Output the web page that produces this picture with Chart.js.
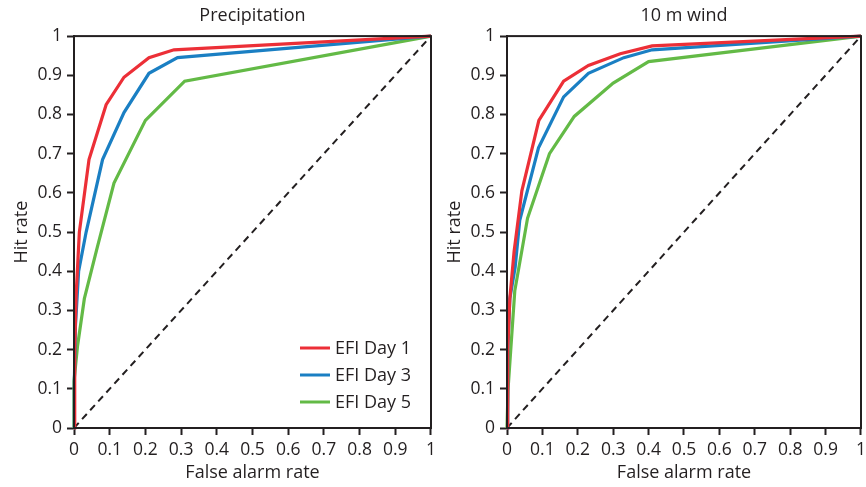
<!DOCTYPE html>
<html>
<head>
<meta charset="utf-8">
<script src="https://cdn.jsdelivr.net/npm/chart.js@4/dist/chart.umd.min.js"></script>
<style>
  html, body { margin: 0; background: #fff; overflow: hidden; }
  .panel { position: absolute; top: 0; }
</style>
</head>
<body>
<canvas id="precipChart" class="panel" width="441" height="487" style="left:0"></canvas>
<canvas id="windChart" class="panel" width="438" height="487" style="left:433px"></canvas>
<script>
// ROC curves, [false alarm rate, hit rate]
const precipDay1 = [[0, 0], [0.002, 0.2], [0.006, 0.34], [0.015, 0.5], [0.042, 0.685], [0.09, 0.825], [0.14, 0.895], [0.21, 0.945], [0.28, 0.965], [1, 1]];
const precipDay3 = [[0, 0], [0.001, 0.12], [0.004, 0.26], [0.013, 0.4], [0.034, 0.5], [0.08, 0.685], [0.14, 0.805], [0.21, 0.905], [0.29, 0.945], [1, 1]];
const precipDay5 = [[0, 0], [0, 0.12], [0.01, 0.21], [0.029, 0.33], [0.065, 0.46], [0.112, 0.625], [0.2, 0.785], [0.31, 0.885], [1, 1]];

const windDay1 = [[0, 0], [0.002, 0.2], [0.008, 0.33], [0.02, 0.45], [0.042, 0.605], [0.09, 0.785], [0.16, 0.885], [0.23, 0.925], [0.32, 0.955], [0.41, 0.975], [1, 1]];
const windDay3 = [[0, 0], [0.002, 0.2], [0.008, 0.33], [0.023, 0.41], [0.036, 0.53], [0.089, 0.715], [0.16, 0.845], [0.23, 0.905], [0.33, 0.945], [0.41, 0.965], [1, 1]];
const windDay5 = [[0, 0], [0.003, 0.1], [0.022, 0.35], [0.058, 0.535], [0.12, 0.7], [0.19, 0.795], [0.3, 0.88], [0.4, 0.935], [1, 1]];

const noSkill = [[0, 0], [1, 1]];
const seriesLabels = ['EFI Day 1', 'EFI Day 3', 'EFI Day 5'];
const tickLabels = ['0', '0.1', '0.2', '0.3', '0.4', '0.5', '0.6', '0.7', '0.8', '0.9', '1'];

const ink = '#231f20';
const lineColors = ['#ec2f37', '#1a7fc3', '#63ba46'];
const fontFamily = "'Open Sans', 'Liberation Sans', sans-serif";

// box round the plot area
const framePlugin = {
    id: 'frame',
    afterDraw(chart) {
        const a = chart.chartArea;
        const ctx = chart.ctx;
        ctx.save();
        ctx.strokeStyle = ink;
        ctx.lineWidth = 2;
        ctx.strokeRect(a.left, a.top, a.right - a.left, a.bottom - a.top);
        ctx.restore();
    }
};

// legend sitting inside the lower right corner
const insideLegend = {
    id: 'insideLegend',
    afterDraw(chart, args, opts) {
        if (!opts.show) return;
        const a = chart.chartArea;
        const ctx = chart.ctx;
        const x0 = a.left + (a.right - a.left) * 0.633;
        ctx.save();
        ctx.font = '18px ' + fontFamily;
        ctx.textBaseline = 'middle';
        chart.data.datasets.forEach((ds, i) => {
            if (!ds.inLegend) return;
            const y = a.bottom - 80 + i * 27;
            ctx.strokeStyle = ds.borderColor;
            ctx.lineWidth = 3;
            ctx.beginPath();
            ctx.moveTo(x0, y);
            ctx.lineTo(x0 + 30, y);
            ctx.stroke();
            ctx.fillStyle = ink;
            ctx.fillText(ds.label, x0 + 35, y + 1);
        });
        ctx.restore();
    }
};

function makeDatasets(curves) {
    const sets = curves.map((pts, i) => ({
        label: seriesLabels[i],
        inLegend: true,
        data: pts.map(p => ({ x: p[0], y: p[1] })),
        borderColor: lineColors[i],
        borderWidth: 3.2,
        showLine: true,
        pointRadius: 0,
        tension: 0,
        clip: 3
    }));
    sets.push({
        label: 'no skill',
        inLegend: false,
        data: noSkill.map(p => ({ x: p[0], y: p[1] })),
        borderColor: ink,
        borderWidth: 2,
        borderDash: [7, 5],
        showLine: true,
        pointRadius: 0
    });
    return sets;
}

function axisOptions(titleText, isY) {
    return {
        type: 'linear',
        min: 0,
        max: 1,
        border: { display: true, color: ink, width: 2 },
        grid: {
            drawOnChartArea: false,
            drawTicks: true,
            tickLength: 7,
            tickWidth: 2,
            tickColor: ink
        },
        ticks: {
            stepSize: 0.1,
            color: ink,
            padding: 5,
            font: { family: fontFamily, size: 17.5 },
            callback: (v, i) => tickLabels[i]
        },
        title: {
            display: true,
            text: titleText,
            color: ink,
            font: { family: fontFamily, size: 18 },
            padding: isY ? { top: 11, bottom: 0 } : { top: 0, bottom: 3 }
        },
        afterFit(scale) {
            if (isY) scale.width = 74;
            else scale.height = 59;
        }
    };
}

function makeChart(id, title, curves, showLegend, padRight) {
    return new Chart(document.getElementById(id), {
        type: 'scatter',
        data: { datasets: makeDatasets(curves) },
        options: {
            responsive: false,
            animation: false,
            layout: { padding: { left: 0, right: padRight, top: 0, bottom: 0 } },
            scales: {
                x: axisOptions('False alarm rate', false),
                y: axisOptions('Hit rate', true)
            },
            plugins: {
                legend: { display: false },
                tooltip: { enabled: false },
                title: {
                    display: true,
                    fullSize: false,
                    text: title,
                    color: ink,
                    font: { family: fontFamily, size: 18, weight: 'normal' },
                    padding: { top: 5, bottom: 9.5 }
                },
                insideLegend: { show: showLegend }
            }
        },
        plugins: [framePlugin, insideLegend]
    });
}

makeChart('precipChart', 'Precipitation', [precipDay1, precipDay3, precipDay5], true, 6);
makeChart('windChart', '10 m wind', [windDay1, windDay3, windDay5], false, 6);
</script>
</body>
</html>
